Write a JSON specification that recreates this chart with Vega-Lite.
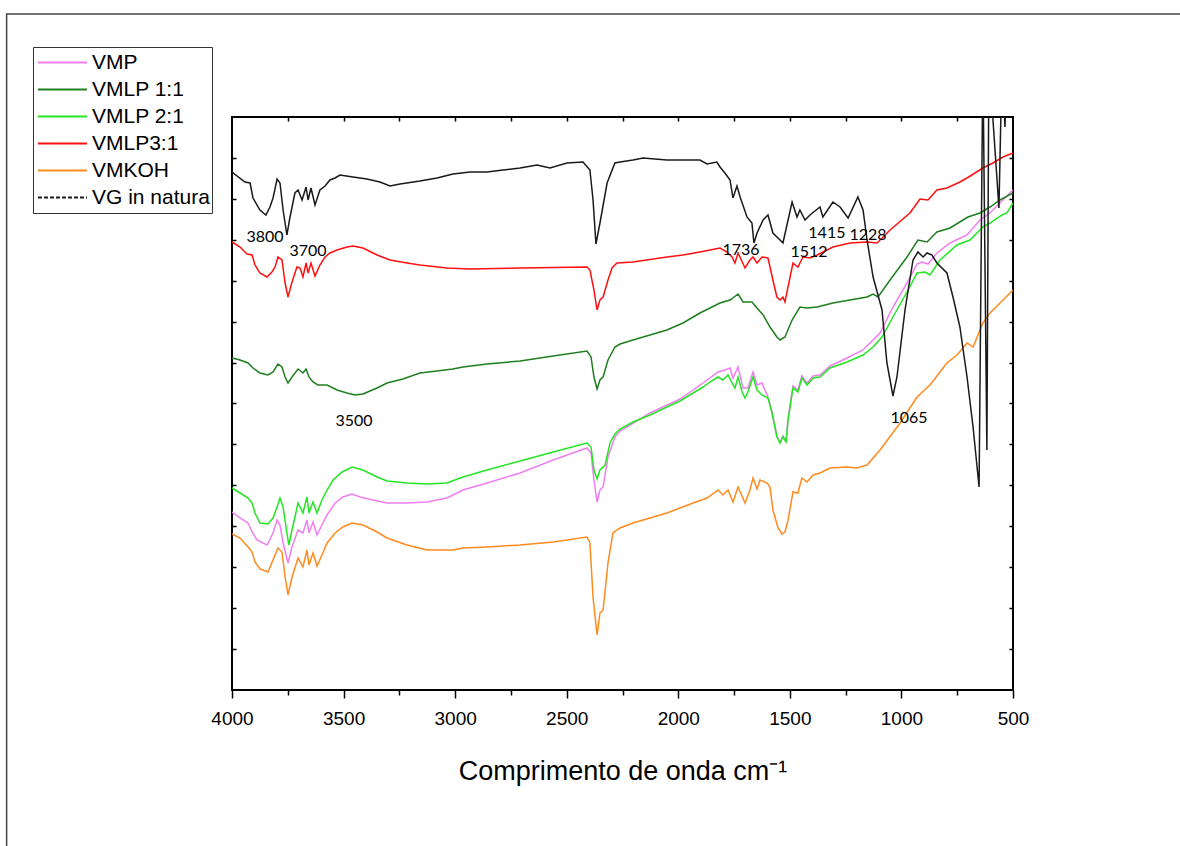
{
  "$schema": "https://vega.github.io/schema/vega-lite/v6.json",
  "width": 781,
  "height": 573,
  "autosize": {"type": "none"},
  "padding": {"left": 232, "top": 117, "right": 167, "bottom": 156},
  "background": "white",
  "config": {
    "font": "Liberation Sans",
    "view": {"stroke": "black", "strokeWidth": 2}
  },
  "datasets": {
    "frame": [{"x1": 5010, "x2": -700, "y1": 676, "y2": -300}],
    "labels": [
      {"label": "3800", "wn": 3852, "t": 453},
      {"label": "3700", "wn": 3659, "t": 439},
      {"label": "3500", "wn": 3453, "t": 269},
      {"label": "1736", "wn": 1719, "t": 440},
      {"label": "1512", "wn": 1414, "t": 438},
      {"label": "1415", "wn": 1334, "t": 457},
      {"label": "1228", "wn": 1150, "t": 455},
      {"label": "1065", "wn": 966, "t": 272}
    ],
    "spectra": [
      {"s":"VMP","wn":4000,"t":178},{"s":"VMP","wn":3964,"t":172},{"s":"VMP","wn":3928,"t":167},{"s":"VMP","wn":3910,"t":158},{"s":"VMP","wn":3888,"t":150},{"s":"VMP","wn":3843,"t":145},{"s":"VMP","wn":3816,"t":157},{"s":"VMP","wn":3798,"t":170},{"s":"VMP","wn":3785,"t":165},{"s":"VMP","wn":3771,"t":147},{"s":"VMP","wn":3749,"t":127},{"s":"VMP","wn":3731,"t":143},{"s":"VMP","wn":3704,"t":160},{"s":"VMP","wn":3682,"t":157},{"s":"VMP","wn":3664,"t":170},{"s":"VMP","wn":3655,"t":157},{"s":"VMP","wn":3637,"t":168},{"s":"VMP","wn":3619,"t":155},{"s":"VMP","wn":3597,"t":165},{"s":"VMP","wn":3574,"t":175},{"s":"VMP","wn":3538,"t":187},{"s":"VMP","wn":3503,"t":193},{"s":"VMP","wn":3462,"t":196},{"s":"VMP","wn":3426,"t":193},{"s":"VMP","wn":3368,"t":190},{"s":"VMP","wn":3305,"t":187},{"s":"VMP","wn":3216,"t":187},{"s":"VMP","wn":3126,"t":188},{"s":"VMP","wn":3037,"t":192},{"s":"VMP","wn":2965,"t":200},{"s":"VMP","wn":2857,"t":207},{"s":"VMP","wn":2709,"t":217},{"s":"VMP","wn":2561,"t":230},{"s":"VMP","wn":2409,"t":242},{"s":"VMP","wn":2391,"t":237},{"s":"VMP","wn":2378,"t":210},{"s":"VMP","wn":2364,"t":188},{"s":"VMP","wn":2351,"t":200},{"s":"VMP","wn":2337,"t":203},{"s":"VMP","wn":2315,"t":233},{"s":"VMP","wn":2284,"t":253},{"s":"VMP","wn":2261,"t":259},{"s":"VMP","wn":2127,"t":277},{"s":"VMP","wn":1992,"t":291},{"s":"VMP","wn":1889,"t":307},{"s":"VMP","wn":1822,"t":318},{"s":"VMP","wn":1791,"t":320},{"s":"VMP","wn":1768,"t":322},{"s":"VMP","wn":1755,"t":312},{"s":"VMP","wn":1732,"t":323},{"s":"VMP","wn":1710,"t":302},{"s":"VMP","wn":1688,"t":302},{"s":"VMP","wn":1665,"t":318},{"s":"VMP","wn":1647,"t":305},{"s":"VMP","wn":1625,"t":307},{"s":"VMP","wn":1598,"t":293},{"s":"VMP","wn":1580,"t":278},{"s":"VMP","wn":1558,"t":254},{"s":"VMP","wn":1544,"t":248},{"s":"VMP","wn":1531,"t":254},{"s":"VMP","wn":1517,"t":249},{"s":"VMP","wn":1508,"t":271},{"s":"VMP","wn":1486,"t":304},{"s":"VMP","wn":1464,"t":300},{"s":"VMP","wn":1446,"t":314},{"s":"VMP","wn":1423,"t":307},{"s":"VMP","wn":1396,"t":314},{"s":"VMP","wn":1365,"t":315},{"s":"VMP","wn":1320,"t":324},{"s":"VMP","wn":1244,"t":332},{"s":"VMP","wn":1172,"t":340},{"s":"VMP","wn":1096,"t":357},{"s":"VMP","wn":1038,"t":383},{"s":"VMP","wn":975,"t":407},{"s":"VMP","wn":930,"t":426},{"s":"VMP","wn":908,"t":428},{"s":"VMP","wn":881,"t":426},{"s":"VMP","wn":841,"t":437},{"s":"VMP","wn":782,"t":447},{"s":"VMP","wn":706,"t":455},{"s":"VMP","wn":648,"t":470},{"s":"VMP","wn":603,"t":477},{"s":"VMP","wn":545,"t":490},{"s":"VMP","wn":500,"t":500},

      {"s":"VMLP 1:1","wn":4000,"t":332},{"s":"VMLP 1:1","wn":3964,"t":330},{"s":"VMLP 1:1","wn":3928,"t":327},{"s":"VMLP 1:1","wn":3906,"t":322},{"s":"VMLP 1:1","wn":3875,"t":317},{"s":"VMLP 1:1","wn":3839,"t":315},{"s":"VMLP 1:1","wn":3816,"t":318},{"s":"VMLP 1:1","wn":3794,"t":326},{"s":"VMLP 1:1","wn":3776,"t":323},{"s":"VMLP 1:1","wn":3762,"t":313},{"s":"VMLP 1:1","wn":3749,"t":307},{"s":"VMLP 1:1","wn":3731,"t":313},{"s":"VMLP 1:1","wn":3704,"t":321},{"s":"VMLP 1:1","wn":3682,"t":317},{"s":"VMLP 1:1","wn":3668,"t":321},{"s":"VMLP 1:1","wn":3655,"t":313},{"s":"VMLP 1:1","wn":3637,"t":308},{"s":"VMLP 1:1","wn":3615,"t":305},{"s":"VMLP 1:1","wn":3574,"t":305},{"s":"VMLP 1:1","wn":3529,"t":300},{"s":"VMLP 1:1","wn":3485,"t":297},{"s":"VMLP 1:1","wn":3449,"t":295},{"s":"VMLP 1:1","wn":3413,"t":296},{"s":"VMLP 1:1","wn":3350,"t":302},{"s":"VMLP 1:1","wn":3305,"t":307},{"s":"VMLP 1:1","wn":3234,"t":311},{"s":"VMLP 1:1","wn":3158,"t":317},{"s":"VMLP 1:1","wn":3081,"t":319},{"s":"VMLP 1:1","wn":3010,"t":321},{"s":"VMLP 1:1","wn":2965,"t":323},{"s":"VMLP 1:1","wn":2857,"t":326},{"s":"VMLP 1:1","wn":2709,"t":329},{"s":"VMLP 1:1","wn":2561,"t":334},{"s":"VMLP 1:1","wn":2409,"t":339},{"s":"VMLP 1:1","wn":2391,"t":333},{"s":"VMLP 1:1","wn":2378,"t":313},{"s":"VMLP 1:1","wn":2364,"t":301},{"s":"VMLP 1:1","wn":2351,"t":310},{"s":"VMLP 1:1","wn":2337,"t":313},{"s":"VMLP 1:1","wn":2315,"t":330},{"s":"VMLP 1:1","wn":2284,"t":343},{"s":"VMLP 1:1","wn":2261,"t":346},{"s":"VMLP 1:1","wn":2203,"t":350},{"s":"VMLP 1:1","wn":2051,"t":360},{"s":"VMLP 1:1","wn":1979,"t":367},{"s":"VMLP 1:1","wn":1903,"t":377},{"s":"VMLP 1:1","wn":1858,"t":382},{"s":"VMLP 1:1","wn":1813,"t":387},{"s":"VMLP 1:1","wn":1768,"t":390},{"s":"VMLP 1:1","wn":1732,"t":396},{"s":"VMLP 1:1","wn":1710,"t":388},{"s":"VMLP 1:1","wn":1670,"t":388},{"s":"VMLP 1:1","wn":1647,"t":382},{"s":"VMLP 1:1","wn":1620,"t":375},{"s":"VMLP 1:1","wn":1589,"t":363},{"s":"VMLP 1:1","wn":1558,"t":353},{"s":"VMLP 1:1","wn":1544,"t":350},{"s":"VMLP 1:1","wn":1522,"t":353},{"s":"VMLP 1:1","wn":1490,"t":370},{"s":"VMLP 1:1","wn":1455,"t":383},{"s":"VMLP 1:1","wn":1423,"t":382},{"s":"VMLP 1:1","wn":1378,"t":383},{"s":"VMLP 1:1","wn":1307,"t":387},{"s":"VMLP 1:1","wn":1231,"t":390},{"s":"VMLP 1:1","wn":1154,"t":393},{"s":"VMLP 1:1","wn":1127,"t":396},{"s":"VMLP 1:1","wn":1105,"t":393},{"s":"VMLP 1:1","wn":1051,"t":410},{"s":"VMLP 1:1","wn":975,"t":433},{"s":"VMLP 1:1","wn":926,"t":450},{"s":"VMLP 1:1","wn":885,"t":448},{"s":"VMLP 1:1","wn":841,"t":458},{"s":"VMLP 1:1","wn":782,"t":462},{"s":"VMLP 1:1","wn":702,"t":473},{"s":"VMLP 1:1","wn":648,"t":477},{"s":"VMLP 1:1","wn":603,"t":483},{"s":"VMLP 1:1","wn":558,"t":490},{"s":"VMLP 1:1","wn":500,"t":497},

      {"s":"VMLP 2:1","wn":4000,"t":202},{"s":"VMLP 2:1","wn":3964,"t":197},{"s":"VMLP 2:1","wn":3928,"t":192},{"s":"VMLP 2:1","wn":3910,"t":187},{"s":"VMLP 2:1","wn":3897,"t":177},{"s":"VMLP 2:1","wn":3875,"t":167},{"s":"VMLP 2:1","wn":3839,"t":166},{"s":"VMLP 2:1","wn":3816,"t":172},{"s":"VMLP 2:1","wn":3798,"t":183},{"s":"VMLP 2:1","wn":3785,"t":192},{"s":"VMLP 2:1","wn":3771,"t":183},{"s":"VMLP 2:1","wn":3754,"t":157},{"s":"VMLP 2:1","wn":3745,"t":145},{"s":"VMLP 2:1","wn":3731,"t":160},{"s":"VMLP 2:1","wn":3704,"t":187},{"s":"VMLP 2:1","wn":3682,"t":177},{"s":"VMLP 2:1","wn":3664,"t":193},{"s":"VMLP 2:1","wn":3655,"t":177},{"s":"VMLP 2:1","wn":3637,"t":188},{"s":"VMLP 2:1","wn":3619,"t":177},{"s":"VMLP 2:1","wn":3597,"t":190},{"s":"VMLP 2:1","wn":3574,"t":200},{"s":"VMLP 2:1","wn":3547,"t":210},{"s":"VMLP 2:1","wn":3507,"t":218},{"s":"VMLP 2:1","wn":3462,"t":223},{"s":"VMLP 2:1","wn":3413,"t":220},{"s":"VMLP 2:1","wn":3350,"t":213},{"s":"VMLP 2:1","wn":3305,"t":209},{"s":"VMLP 2:1","wn":3216,"t":207},{"s":"VMLP 2:1","wn":3126,"t":206},{"s":"VMLP 2:1","wn":3037,"t":207},{"s":"VMLP 2:1","wn":2965,"t":213},{"s":"VMLP 2:1","wn":2857,"t":220},{"s":"VMLP 2:1","wn":2709,"t":229},{"s":"VMLP 2:1","wn":2561,"t":238},{"s":"VMLP 2:1","wn":2409,"t":247},{"s":"VMLP 2:1","wn":2391,"t":243},{"s":"VMLP 2:1","wn":2378,"t":220},{"s":"VMLP 2:1","wn":2364,"t":211},{"s":"VMLP 2:1","wn":2351,"t":220},{"s":"VMLP 2:1","wn":2328,"t":225},{"s":"VMLP 2:1","wn":2306,"t":247},{"s":"VMLP 2:1","wn":2284,"t":256},{"s":"VMLP 2:1","wn":2261,"t":261},{"s":"VMLP 2:1","wn":2203,"t":268},{"s":"VMLP 2:1","wn":2127,"t":275},{"s":"VMLP 2:1","wn":2051,"t":283},{"s":"VMLP 2:1","wn":1992,"t":289},{"s":"VMLP 2:1","wn":1934,"t":297},{"s":"VMLP 2:1","wn":1889,"t":303},{"s":"VMLP 2:1","wn":1858,"t":308},{"s":"VMLP 2:1","wn":1822,"t":313},{"s":"VMLP 2:1","wn":1800,"t":310},{"s":"VMLP 2:1","wn":1777,"t":315},{"s":"VMLP 2:1","wn":1759,"t":307},{"s":"VMLP 2:1","wn":1746,"t":302},{"s":"VMLP 2:1","wn":1732,"t":313},{"s":"VMLP 2:1","wn":1714,"t":298},{"s":"VMLP 2:1","wn":1701,"t":292},{"s":"VMLP 2:1","wn":1688,"t":298},{"s":"VMLP 2:1","wn":1665,"t":313},{"s":"VMLP 2:1","wn":1647,"t":300},{"s":"VMLP 2:1","wn":1625,"t":295},{"s":"VMLP 2:1","wn":1598,"t":292},{"s":"VMLP 2:1","wn":1580,"t":277},{"s":"VMLP 2:1","wn":1558,"t":253},{"s":"VMLP 2:1","wn":1544,"t":247},{"s":"VMLP 2:1","wn":1531,"t":253},{"s":"VMLP 2:1","wn":1517,"t":248},{"s":"VMLP 2:1","wn":1508,"t":270},{"s":"VMLP 2:1","wn":1486,"t":302},{"s":"VMLP 2:1","wn":1464,"t":298},{"s":"VMLP 2:1","wn":1446,"t":312},{"s":"VMLP 2:1","wn":1423,"t":305},{"s":"VMLP 2:1","wn":1396,"t":312},{"s":"VMLP 2:1","wn":1365,"t":313},{"s":"VMLP 2:1","wn":1320,"t":322},{"s":"VMLP 2:1","wn":1244,"t":328},{"s":"VMLP 2:1","wn":1172,"t":335},{"s":"VMLP 2:1","wn":1127,"t":343},{"s":"VMLP 2:1","wn":1087,"t":353},{"s":"VMLP 2:1","wn":1038,"t":373},{"s":"VMLP 2:1","wn":975,"t":398},{"s":"VMLP 2:1","wn":930,"t":417},{"s":"VMLP 2:1","wn":894,"t":418},{"s":"VMLP 2:1","wn":872,"t":415},{"s":"VMLP 2:1","wn":827,"t":430},{"s":"VMLP 2:1","wn":751,"t":445},{"s":"VMLP 2:1","wn":693,"t":450},{"s":"VMLP 2:1","wn":635,"t":463},{"s":"VMLP 2:1","wn":603,"t":467},{"s":"VMLP 2:1","wn":549,"t":475},{"s":"VMLP 2:1","wn":527,"t":477},{"s":"VMLP 2:1","wn":500,"t":487},

      {"s":"VMLP3:1","wn":4000,"t":448},{"s":"VMLP3:1","wn":3964,"t":443},{"s":"VMLP3:1","wn":3933,"t":436},{"s":"VMLP3:1","wn":3910,"t":435},{"s":"VMLP3:1","wn":3897,"t":425},{"s":"VMLP3:1","wn":3875,"t":417},{"s":"VMLP3:1","wn":3843,"t":413},{"s":"VMLP3:1","wn":3821,"t":418},{"s":"VMLP3:1","wn":3807,"t":423},{"s":"VMLP3:1","wn":3794,"t":433},{"s":"VMLP3:1","wn":3776,"t":430},{"s":"VMLP3:1","wn":3762,"t":407},{"s":"VMLP3:1","wn":3749,"t":393},{"s":"VMLP3:1","wn":3731,"t":408},{"s":"VMLP3:1","wn":3709,"t":423},{"s":"VMLP3:1","wn":3695,"t":422},{"s":"VMLP3:1","wn":3682,"t":413},{"s":"VMLP3:1","wn":3668,"t":427},{"s":"VMLP3:1","wn":3659,"t":417},{"s":"VMLP3:1","wn":3646,"t":427},{"s":"VMLP3:1","wn":3628,"t":414},{"s":"VMLP3:1","wn":3606,"t":425},{"s":"VMLP3:1","wn":3583,"t":433},{"s":"VMLP3:1","wn":3561,"t":437},{"s":"VMLP3:1","wn":3529,"t":440},{"s":"VMLP3:1","wn":3485,"t":443},{"s":"VMLP3:1","wn":3458,"t":444},{"s":"VMLP3:1","wn":3413,"t":442},{"s":"VMLP3:1","wn":3350,"t":435},{"s":"VMLP3:1","wn":3292,"t":430},{"s":"VMLP3:1","wn":3216,"t":427},{"s":"VMLP3:1","wn":3158,"t":425},{"s":"VMLP3:1","wn":3037,"t":422},{"s":"VMLP3:1","wn":2933,"t":421},{"s":"VMLP3:1","wn":2709,"t":422},{"s":"VMLP3:1","wn":2409,"t":423},{"s":"VMLP3:1","wn":2396,"t":420},{"s":"VMLP3:1","wn":2378,"t":400},{"s":"VMLP3:1","wn":2364,"t":380},{"s":"VMLP3:1","wn":2351,"t":390},{"s":"VMLP3:1","wn":2337,"t":393},{"s":"VMLP3:1","wn":2315,"t":410},{"s":"VMLP3:1","wn":2297,"t":422},{"s":"VMLP3:1","wn":2275,"t":427},{"s":"VMLP3:1","wn":2203,"t":428},{"s":"VMLP3:1","wn":2051,"t":433},{"s":"VMLP3:1","wn":1979,"t":435},{"s":"VMLP3:1","wn":1903,"t":438},{"s":"VMLP3:1","wn":1858,"t":440},{"s":"VMLP3:1","wn":1813,"t":442},{"s":"VMLP3:1","wn":1782,"t":438},{"s":"VMLP3:1","wn":1759,"t":433},{"s":"VMLP3:1","wn":1746,"t":427},{"s":"VMLP3:1","wn":1732,"t":437},{"s":"VMLP3:1","wn":1701,"t":422},{"s":"VMLP3:1","wn":1679,"t":430},{"s":"VMLP3:1","wn":1665,"t":433},{"s":"VMLP3:1","wn":1647,"t":427},{"s":"VMLP3:1","wn":1625,"t":433},{"s":"VMLP3:1","wn":1598,"t":432},{"s":"VMLP3:1","wn":1576,"t":410},{"s":"VMLP3:1","wn":1558,"t":393},{"s":"VMLP3:1","wn":1544,"t":390},{"s":"VMLP3:1","wn":1531,"t":393},{"s":"VMLP3:1","wn":1522,"t":388},{"s":"VMLP3:1","wn":1499,"t":413},{"s":"VMLP3:1","wn":1486,"t":427},{"s":"VMLP3:1","wn":1464,"t":423},{"s":"VMLP3:1","wn":1441,"t":433},{"s":"VMLP3:1","wn":1410,"t":432},{"s":"VMLP3:1","wn":1378,"t":435},{"s":"VMLP3:1","wn":1307,"t":443},{"s":"VMLP3:1","wn":1231,"t":447},{"s":"VMLP3:1","wn":1154,"t":448},{"s":"VMLP3:1","wn":1109,"t":447},{"s":"VMLP3:1","wn":1051,"t":460},{"s":"VMLP3:1","wn":962,"t":477},{"s":"VMLP3:1","wn":917,"t":491},{"s":"VMLP3:1","wn":881,"t":490},{"s":"VMLP3:1","wn":841,"t":500},{"s":"VMLP3:1","wn":796,"t":502},{"s":"VMLP3:1","wn":738,"t":508},{"s":"VMLP3:1","wn":706,"t":512},{"s":"VMLP3:1","wn":635,"t":522},{"s":"VMLP3:1","wn":590,"t":527},{"s":"VMLP3:1","wn":545,"t":533},{"s":"VMLP3:1","wn":500,"t":537},

      {"s":"VMKOH","wn":4000,"t":156},{"s":"VMKOH","wn":3964,"t":152},{"s":"VMKOH","wn":3928,"t":143},{"s":"VMKOH","wn":3910,"t":138},{"s":"VMKOH","wn":3897,"t":128},{"s":"VMKOH","wn":3875,"t":121},{"s":"VMKOH","wn":3839,"t":118},{"s":"VMKOH","wn":3816,"t":130},{"s":"VMKOH","wn":3794,"t":142},{"s":"VMKOH","wn":3776,"t":138},{"s":"VMKOH","wn":3762,"t":113},{"s":"VMKOH","wn":3749,"t":95},{"s":"VMKOH","wn":3731,"t":113},{"s":"VMKOH","wn":3704,"t":132},{"s":"VMKOH","wn":3682,"t":123},{"s":"VMKOH","wn":3664,"t":140},{"s":"VMKOH","wn":3655,"t":125},{"s":"VMKOH","wn":3637,"t":137},{"s":"VMKOH","wn":3619,"t":124},{"s":"VMKOH","wn":3597,"t":135},{"s":"VMKOH","wn":3574,"t":147},{"s":"VMKOH","wn":3538,"t":157},{"s":"VMKOH","wn":3503,"t":163},{"s":"VMKOH","wn":3462,"t":167},{"s":"VMKOH","wn":3413,"t":165},{"s":"VMKOH","wn":3350,"t":158},{"s":"VMKOH","wn":3305,"t":152},{"s":"VMKOH","wn":3216,"t":145},{"s":"VMKOH","wn":3126,"t":140},{"s":"VMKOH","wn":3010,"t":140},{"s":"VMKOH","wn":2965,"t":142},{"s":"VMKOH","wn":2857,"t":143},{"s":"VMKOH","wn":2709,"t":145},{"s":"VMKOH","wn":2561,"t":148},{"s":"VMKOH","wn":2409,"t":153},{"s":"VMKOH","wn":2396,"t":147},{"s":"VMKOH","wn":2382,"t":93},{"s":"VMKOH","wn":2364,"t":55},{"s":"VMKOH","wn":2351,"t":77},{"s":"VMKOH","wn":2337,"t":80},{"s":"VMKOH","wn":2315,"t":127},{"s":"VMKOH","wn":2293,"t":157},{"s":"VMKOH","wn":2261,"t":162},{"s":"VMKOH","wn":2203,"t":167},{"s":"VMKOH","wn":2127,"t":172},{"s":"VMKOH","wn":2051,"t":177},{"s":"VMKOH","wn":1992,"t":182},{"s":"VMKOH","wn":1934,"t":187},{"s":"VMKOH","wn":1871,"t":192},{"s":"VMKOH","wn":1822,"t":200},{"s":"VMKOH","wn":1800,"t":195},{"s":"VMKOH","wn":1777,"t":200},{"s":"VMKOH","wn":1755,"t":188},{"s":"VMKOH","wn":1732,"t":203},{"s":"VMKOH","wn":1701,"t":187},{"s":"VMKOH","wn":1679,"t":200},{"s":"VMKOH","wn":1665,"t":212},{"s":"VMKOH","wn":1647,"t":201},{"s":"VMKOH","wn":1634,"t":210},{"s":"VMKOH","wn":1602,"t":207},{"s":"VMKOH","wn":1589,"t":203},{"s":"VMKOH","wn":1576,"t":180},{"s":"VMKOH","wn":1553,"t":162},{"s":"VMKOH","wn":1535,"t":156},{"s":"VMKOH","wn":1522,"t":158},{"s":"VMKOH","wn":1508,"t":170},{"s":"VMKOH","wn":1486,"t":198},{"s":"VMKOH","wn":1464,"t":197},{"s":"VMKOH","wn":1446,"t":212},{"s":"VMKOH","wn":1423,"t":208},{"s":"VMKOH","wn":1396,"t":215},{"s":"VMKOH","wn":1365,"t":217},{"s":"VMKOH","wn":1320,"t":222},{"s":"VMKOH","wn":1244,"t":223},{"s":"VMKOH","wn":1199,"t":222},{"s":"VMKOH","wn":1154,"t":225},{"s":"VMKOH","wn":1096,"t":240},{"s":"VMKOH","wn":1006,"t":267},{"s":"VMKOH","wn":930,"t":293},{"s":"VMKOH","wn":872,"t":305},{"s":"VMKOH","wn":796,"t":327},{"s":"VMKOH","wn":751,"t":335},{"s":"VMKOH","wn":706,"t":347},{"s":"VMKOH","wn":679,"t":343},{"s":"VMKOH","wn":635,"t":367},{"s":"VMKOH","wn":603,"t":377},{"s":"VMKOH","wn":558,"t":387},{"s":"VMKOH","wn":500,"t":400},

      {"s":"VG in natura","wn":4000,"t":518},{"s":"VG in natura","wn":3942,"t":508},{"s":"VG in natura","wn":3919,"t":507},{"s":"VG in natura","wn":3906,"t":492},{"s":"VG in natura","wn":3875,"t":480},{"s":"VG in natura","wn":3848,"t":475},{"s":"VG in natura","wn":3830,"t":483},{"s":"VG in natura","wn":3816,"t":492},{"s":"VG in natura","wn":3798,"t":511},{"s":"VG in natura","wn":3785,"t":507},{"s":"VG in natura","wn":3771,"t":480},{"s":"VG in natura","wn":3754,"t":455},{"s":"VG in natura","wn":3740,"t":473},{"s":"VG in natura","wn":3718,"t":497},{"s":"VG in natura","wn":3704,"t":500},{"s":"VG in natura","wn":3686,"t":490},{"s":"VG in natura","wn":3668,"t":503},{"s":"VG in natura","wn":3659,"t":490},{"s":"VG in natura","wn":3646,"t":502},{"s":"VG in natura","wn":3628,"t":485},{"s":"VG in natura","wn":3606,"t":500},{"s":"VG in natura","wn":3583,"t":504},{"s":"VG in natura","wn":3561,"t":510},{"s":"VG in natura","wn":3538,"t":512},{"s":"VG in natura","wn":3516,"t":515},{"s":"VG in natura","wn":3458,"t":513},{"s":"VG in natura","wn":3395,"t":511},{"s":"VG in natura","wn":3337,"t":508},{"s":"VG in natura","wn":3292,"t":504},{"s":"VG in natura","wn":3247,"t":506},{"s":"VG in natura","wn":3158,"t":509},{"s":"VG in natura","wn":3081,"t":512},{"s":"VG in natura","wn":3010,"t":516},{"s":"VG in natura","wn":2933,"t":518},{"s":"VG in natura","wn":2857,"t":518},{"s":"VG in natura","wn":2786,"t":520},{"s":"VG in natura","wn":2709,"t":522},{"s":"VG in natura","wn":2633,"t":525},{"s":"VG in natura","wn":2575,"t":522},{"s":"VG in natura","wn":2499,"t":527},{"s":"VG in natura","wn":2427,"t":528},{"s":"VG in natura","wn":2396,"t":520},{"s":"VG in natura","wn":2382,"t":490},{"s":"VG in natura","wn":2369,"t":446},{"s":"VG in natura","wn":2351,"t":467},{"s":"VG in natura","wn":2319,"t":507},{"s":"VG in natura","wn":2284,"t":527},{"s":"VG in natura","wn":2261,"t":528},{"s":"VG in natura","wn":2203,"t":530},{"s":"VG in natura","wn":2158,"t":532},{"s":"VG in natura","wn":2051,"t":530},{"s":"VG in natura","wn":1979,"t":530},{"s":"VG in natura","wn":1903,"t":530},{"s":"VG in natura","wn":1871,"t":526},{"s":"VG in natura","wn":1827,"t":528},{"s":"VG in natura","wn":1813,"t":523},{"s":"VG in natura","wn":1791,"t":517},{"s":"VG in natura","wn":1768,"t":510},{"s":"VG in natura","wn":1755,"t":492},{"s":"VG in natura","wn":1737,"t":504},{"s":"VG in natura","wn":1723,"t":493},{"s":"VG in natura","wn":1692,"t":473},{"s":"VG in natura","wn":1670,"t":467},{"s":"VG in natura","wn":1661,"t":447},{"s":"VG in natura","wn":1647,"t":457},{"s":"VG in natura","wn":1620,"t":470},{"s":"VG in natura","wn":1598,"t":475},{"s":"VG in natura","wn":1576,"t":457},{"s":"VG in natura","wn":1544,"t":450},{"s":"VG in natura","wn":1531,"t":447},{"s":"VG in natura","wn":1490,"t":488},{"s":"VG in natura","wn":1468,"t":473},{"s":"VG in natura","wn":1455,"t":480},{"s":"VG in natura","wn":1432,"t":470},{"s":"VG in natura","wn":1410,"t":475},{"s":"VG in natura","wn":1365,"t":483},{"s":"VG in natura","wn":1352,"t":473},{"s":"VG in natura","wn":1307,"t":488},{"s":"VG in natura","wn":1275,"t":483},{"s":"VG in natura","wn":1239,"t":472},{"s":"VG in natura","wn":1195,"t":493},{"s":"VG in natura","wn":1172,"t":480},{"s":"VG in natura","wn":1154,"t":450},{"s":"VG in natura","wn":1127,"t":413},{"s":"VG in natura","wn":1087,"t":380},{"s":"VG in natura","wn":1065,"t":327},{"s":"VG in natura","wn":1038,"t":294},{"s":"VG in natura","wn":1020,"t":313},{"s":"VG in natura","wn":984,"t":380},{"s":"VG in natura","wn":948,"t":430},{"s":"VG in natura","wn":926,"t":438},{"s":"VG in natura","wn":903,"t":433},{"s":"VG in natura","wn":885,"t":437},{"s":"VG in natura","wn":863,"t":435},{"s":"VG in natura","wn":841,"t":427},{"s":"VG in natura","wn":796,"t":417},{"s":"VG in natura","wn":769,"t":393},{"s":"VG in natura","wn":738,"t":363},{"s":"VG in natura","wn":706,"t":313},{"s":"VG in natura","wn":679,"t":263},{"s":"VG in natura","wn":652,"t":203},{"s":"VG in natura","wn":635,"t":630},{"s":"VG in natura","wn":617,"t":240},{"s":"VG in natura","wn":608,"t":630},{"s":"VG in natura","wn":563,"t":482},{"s":"VG in natura","wn":549,"t":630},{"s":"VG in natura","wn":536,"t":563},{"s":"VG in natura","wn":527,"t":630},{"s":"VG in natura","wn":500,"t":630}
    ]
  },
  "resolve": {"axis": {"x": "independent", "y": "independent"}},
  "layer": [
    {
      "data": {"name": "frame"},
      "mark": {"type": "rect", "fill": null, "fillOpacity": 0, "stroke": "#444444", "strokeWidth": 1.5, "clip": false},
      "encoding": {
        "x": {"field": "x1", "type": "quantitative", "scale": {"domain": [4000, 500], "nice": false, "zero": false},
              "axis": {"orient": "bottom", "values": [3750, 3250, 2750, 2250, 1750, 1250, 750], "tickSize": 5, "tickWidth": 1.5, "tickColor": "black", "labels": false, "domain": false, "grid": false, "title": null}},
        "x2": {"field": "x2"},
        "y": {"field": "y1", "type": "quantitative", "scale": {"domain": [0, 573], "nice": false, "zero": false}, "axis": null},
        "y2": {"field": "y2"}
      }
    },
    {
      "data": {"name": "spectra"},
      "mark": {"type": "line", "strokeWidth": 1.5, "clip": true},
      "encoding": {
        "x": {"field": "wn", "type": "quantitative", "scale": {"domain": [4000, 500], "nice": false, "zero": false},
              "axis": {"orient": "bottom", "values": [4000, 3500, 3000, 2500, 2000, 1500, 1000, 500], "format": "d", "tickSize": 8, "tickWidth": 1.5, "tickColor": "black", "domain": false, "grid": false,
                       "labelFont": "Liberation Sans", "labelFontSize": 19, "labelColor": "black", "labelPadding": 11, "labelFlush": false, "labelOverlap": false,
                       "title": "Comprimento de onda cm⁻¹", "titleFont": "Liberation Sans", "titleFontSize": 27, "titleFontWeight": "normal", "titleColor": "black", "titlePadding": 30}},
        "y": {"field": "t", "type": "quantitative", "scale": {"domain": [0, 573], "nice": false, "zero": false},
              "axis": {"orient": "left", "values": [41, 82, 123, 164, 205, 246, 287, 327, 368, 409, 450, 491, 532], "tickSize": -4, "tickWidth": 1.5, "tickColor": "black", "labels": false, "domain": false, "grid": false, "title": null}},
        "color": {
          "field": "s", "type": "nominal",
          "scale": {"domain": ["VMP", "VMLP 1:1", "VMLP 2:1", "VMLP3:1", "VMKOH", "VG in natura"],
                    "range": ["#f07ef0", "#1f7f1f", "#22e622", "#ff1010", "#ff8a1e", "#1a1a1a"]},
          "legend": {
            "title": null, "orient": "none", "legendX": -199, "legendY": -70, "direction": "vertical",
            "symbolType": "stroke", "symbolSize": 2400, "symbolStrokeWidth": 2, "symbolOffset": 2,
            "labelFont": "Liberation Sans", "labelFontSize": 21, "labelColor": "black", "labelOffset": 4, "labelLimit": 0,
            "labelExpr": "datum.label == 'VG in natura' ? 'VG in natura   ' : datum.label",
            "clipHeight": 27, "rowPadding": 0, "padding": 2, "fillColor": "white", "strokeColor": "#333333",
            "encode": {"symbols": {"update": {"strokeDash": [{"test": "datum.value === 'VG in natura'", "value": [4, 2]}, {"value": [1, 0]}]}}}
          }
        }
      }
    },
    {
      "data": {"name": "labels"},
      "mark": {"type": "text", "font": "Lato", "fontSize": 16, "color": "black", "align": "center", "baseline": "middle"},
      "encoding": {
        "x": {"field": "wn", "type": "quantitative", "scale": {"domain": [4000, 500], "nice": false, "zero": false},
              "axis": {"orient": "top", "values": [3750, 3500, 3250, 3000, 2750, 2500, 2250, 2000, 1750, 1500, 1250, 1000, 750], "tickSize": -4, "tickWidth": 1.5, "tickColor": "black", "labels": false, "domain": false, "grid": false, "title": null}},
        "y": {"field": "t", "type": "quantitative", "scale": {"domain": [0, 573], "nice": false, "zero": false},
              "axis": {"orient": "right", "values": [41, 82, 123, 164, 205, 246, 287, 327, 368, 409, 450, 491, 532], "tickSize": -4, "tickWidth": 1.5, "tickColor": "black", "labels": false, "domain": false, "grid": false, "title": null}},
        "text": {"field": "label"}
      }
    }
  ]
}
